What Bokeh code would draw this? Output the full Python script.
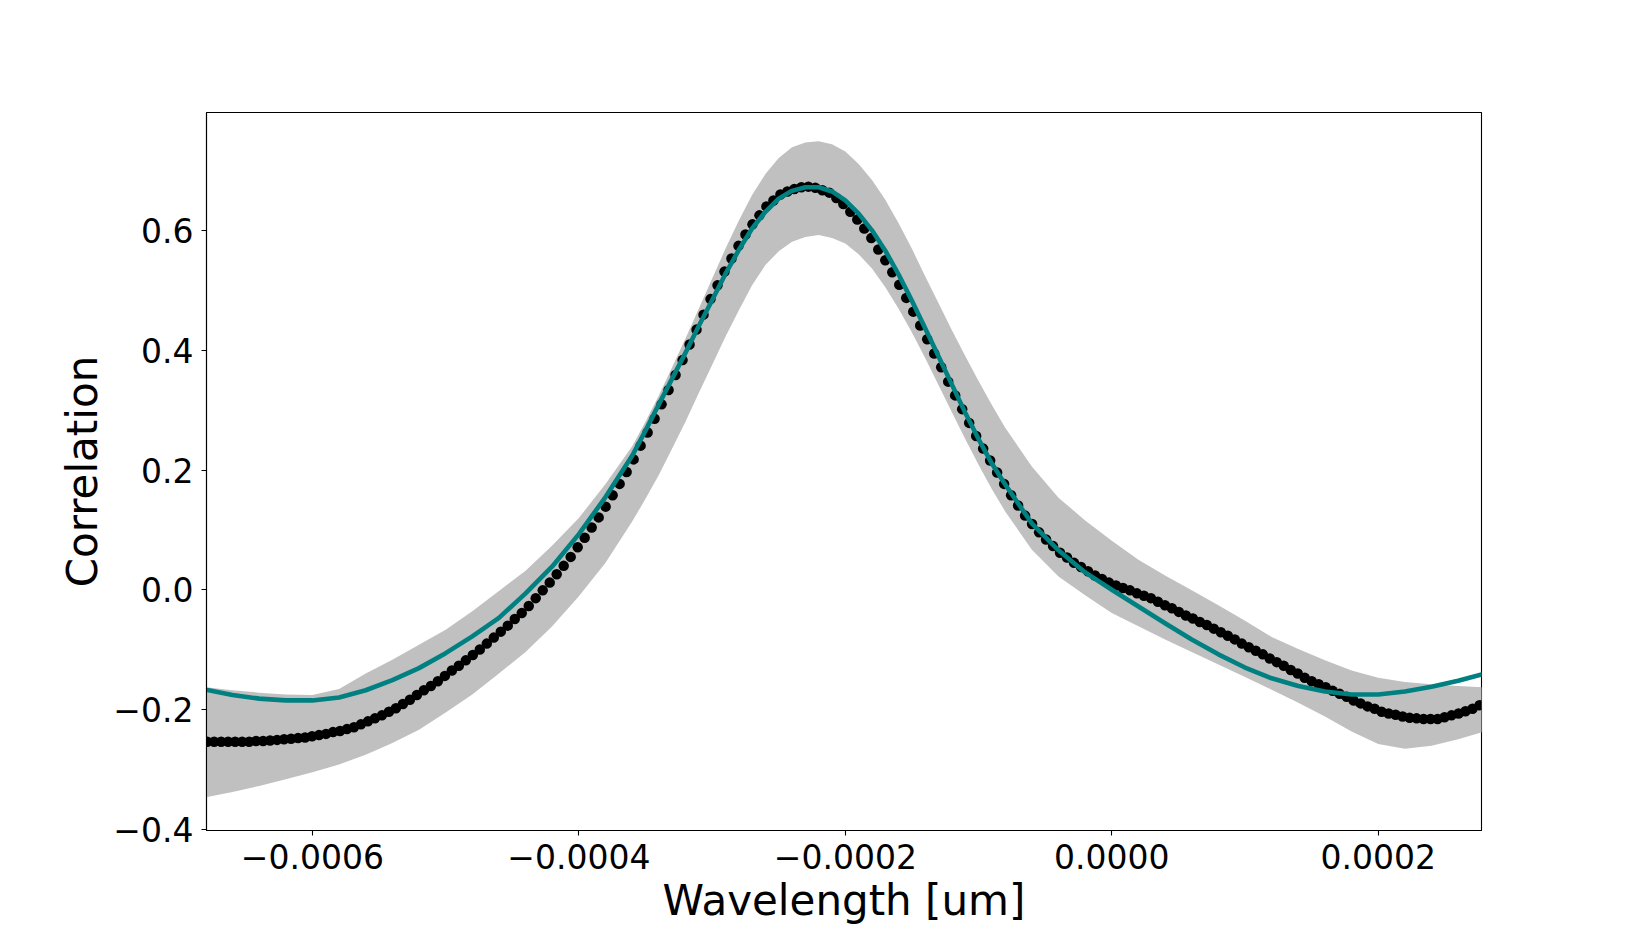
import numpy as np
from bokeh.plotting import figure
from bokeh.models import Range1d, FixedTicker
from bokeh.embed import file_html
from bokeh.resources import INLINE

# ---- data ----
# regular wavelength sampling of the measured correlation (dots)
wl_start = -0.000679
wl_stop = 0.000276
wl_count = 183
corr_dots = [
    -0.254, -0.254, -0.254, -0.254, -0.254, -0.254, -0.254, -0.253, -0.253, -0.252,
    -0.251, -0.250, -0.249, -0.248, -0.247, -0.245, -0.243, -0.241, -0.238, -0.236,
    -0.233, -0.230, -0.225, -0.220, -0.215, -0.210, -0.204, -0.198, -0.191, -0.184,
    -0.176, -0.168, -0.161, -0.153, -0.144, -0.135, -0.127, -0.118, -0.109, -0.100,
    -0.090, -0.080, -0.070, -0.060, -0.049, -0.039, -0.027, -0.014, -0.001, 0.012,
    0.026, 0.040, 0.055, 0.071, 0.087, 0.104, 0.121, 0.139, 0.158, 0.177,
    0.197, 0.218, 0.241, 0.263, 0.286, 0.310, 0.334, 0.359, 0.384, 0.410,
    0.435, 0.460, 0.486, 0.509, 0.532, 0.554, 0.575, 0.594, 0.611, 0.626,
    0.641, 0.651, 0.661, 0.666, 0.670, 0.673, 0.674, 0.672, 0.668, 0.664,
    0.655, 0.645, 0.632, 0.619, 0.604, 0.588, 0.569, 0.551, 0.531, 0.510,
    0.488, 0.465, 0.442, 0.419, 0.395, 0.372, 0.348, 0.325, 0.302, 0.279,
    0.257, 0.236, 0.216, 0.196, 0.177, 0.158, 0.141, 0.124, 0.110, 0.096,
    0.084, 0.073, 0.062, 0.054, 0.045, 0.038, 0.031, 0.024, 0.018, 0.012,
    0.007, 0.003, -0.001, -0.006, -0.010, -0.014, -0.020, -0.026, -0.031, -0.037,
    -0.043, -0.048, -0.054, -0.059, -0.065, -0.071, -0.077, -0.083, -0.090, -0.096,
    -0.102, -0.108, -0.115, -0.121, -0.127, -0.134, -0.140, -0.147, -0.153, -0.158,
    -0.163, -0.169, -0.174, -0.179, -0.185, -0.190, -0.195, -0.199, -0.204, -0.207,
    -0.209, -0.212, -0.214, -0.215, -0.216, -0.216, -0.216, -0.213, -0.210, -0.207,
    -0.203, -0.199, -0.193,
]

# grid for the model line and the uncertainty band (finer around the peak)
wl_model = [
    -0.00068, -0.00066, -0.00064, -0.00062, -0.00060, -0.00058, -0.00056, -0.00054,
    -0.00052, -0.00050, -0.00048, -0.00046, -0.00044, -0.00042, -0.00040, -0.00038,
    -0.00036,
    -0.00035, -0.00034, -0.00033, -0.00032, -0.00031, -0.00030, -0.00029, -0.00028,
    -0.00027, -0.00026, -0.00025, -0.00024, -0.00023, -0.00022, -0.00021, -0.00020,
    -0.00019, -0.00018, -0.00017, -0.00016, -0.00015, -0.00014, -0.00013, -0.00012,
    -0.00011, -0.00010, -0.00009, -0.00008,
    -0.00006, -0.00004, -0.00002, 0.00000, 0.00002, 0.00004, 0.00006, 0.00008,
    0.00010, 0.00012, 0.00014, 0.00016, 0.00018, 0.00020, 0.00022, 0.00024,
    0.00026, 0.00028,
]
corr_model = [
    -0.167, -0.176, -0.182, -0.185, -0.185, -0.180, -0.168, -0.151,
    -0.131, -0.106, -0.078, -0.047, -0.006, 0.039, 0.093, 0.155,
    0.224,
    0.266, 0.310, 0.353, 0.396, 0.441, 0.484, 0.528, 0.568,
    0.604, 0.632, 0.654, 0.667, 0.673, 0.673, 0.666, 0.651,
    0.629, 0.601, 0.567, 0.527, 0.483, 0.437, 0.390, 0.343,
    0.296, 0.252, 0.211, 0.176,
    0.111, 0.066, 0.029, 0.000, -0.028, -0.056, -0.083, -0.108,
    -0.130, -0.148, -0.161, -0.170, -0.175, -0.175, -0.170, -0.162,
    -0.152, -0.140,
]
band_upper = [
    -0.163, -0.168, -0.172, -0.175, -0.176, -0.166, -0.140, -0.117,
    -0.092, -0.067, -0.036, -0.002, 0.032, 0.074, 0.120, 0.177,
    0.240,
    0.281, 0.325, 0.372, 0.420, 0.470, 0.520, 0.570, 0.617,
    0.660, 0.695, 0.722, 0.740, 0.748, 0.750, 0.745, 0.733,
    0.712, 0.685, 0.652, 0.613, 0.570, 0.524, 0.479, 0.434,
    0.391, 0.349, 0.309, 0.271,
    0.206, 0.154, 0.116, 0.082, 0.050, 0.024, -0.001, -0.026,
    -0.052, -0.079, -0.099, -0.118, -0.135, -0.147, -0.154, -0.158,
    -0.161, -0.163,
]
band_lower = [
    -0.347, -0.338, -0.328, -0.317, -0.305, -0.292, -0.276, -0.256,
    -0.234, -0.205, -0.175, -0.140, -0.104, -0.061, -0.011, 0.045,
    0.114,
    0.152, 0.192, 0.236, 0.281, 0.329, 0.376, 0.423, 0.467,
    0.509, 0.543, 0.566, 0.582, 0.590, 0.593, 0.588, 0.579,
    0.561, 0.537, 0.506, 0.470, 0.430, 0.387, 0.342, 0.297,
    0.252, 0.209, 0.168, 0.131,
    0.067, 0.022, -0.009, -0.039, -0.061, -0.083, -0.104, -0.125,
    -0.146, -0.167, -0.189, -0.212, -0.237, -0.258, -0.266, -0.261,
    -0.250, -0.237,
]

x_ticks = [-0.0006, -0.0004, -0.0002, 0.0, 0.0002]
x_tick_labels = ["\u22120.0006", "\u22120.0004", "\u22120.0002", "0.0000", "0.0002"]
y_ticks = [-0.4, -0.2, 0.0, 0.2, 0.4, 0.6]
y_tick_labels = ["\u22120.4", "\u22120.2", "0.0", "0.2", "0.4", "0.6"]

wl_dots = np.linspace(wl_start, wl_stop, wl_count)

FONT = "DejaVu Sans"

p = figure(
    width=1630, height=927,
    output_backend="svg", toolbar_location=None,
    x_range=Range1d(-0.0006795, 0.0002775),
    y_range=Range1d(-0.4025, 0.798),
    min_border_left=206, min_border_right=149,
    min_border_top=112, min_border_bottom=97,
)
p.background_fill_color = "white"
p.border_fill_color = "white"
p.grid.visible = False
p.outline_line_color = "black"
p.outline_line_width = 1.1

p.varea(x=wl_model, y1=band_lower, y2=band_upper, fill_color="#c0c0c0", fill_alpha=1.0)
p.scatter(x=wl_dots, y=corr_dots, size=10.5, fill_color="black", line_color=None)
p.line(x=wl_model, y=corr_model, line_color="#008080", line_width=4.6,
       line_join="round")

for ax in (p.xaxis[0], p.yaxis[0]):
    ax.major_label_text_font = FONT
    ax.major_label_text_font_size = "33px"
    ax.major_label_text_color = "black"
    ax.axis_label_text_font = FONT
    ax.axis_label_text_font_size = "42px"
    ax.axis_label_text_font_style = "normal"
    ax.axis_label_text_color = "black"
    ax.major_tick_out = 5
    ax.major_tick_in = 0
    ax.minor_tick_out = 0
    ax.minor_tick_in = 0
    ax.axis_line_color = "black"
    ax.axis_line_width = 1.1
    ax.major_tick_line_width = 1.1

p.xaxis.ticker = FixedTicker(ticks=x_ticks)
p.xaxis.major_label_overrides = dict(zip(x_ticks, x_tick_labels))
p.yaxis.ticker = FixedTicker(ticks=y_ticks)
p.yaxis.major_label_overrides = dict(zip(y_ticks, y_tick_labels))
p.xaxis.axis_label = "Wavelength [um]"
p.yaxis.axis_label = "Correlation"
p.xaxis.major_label_standoff = 8
p.yaxis.major_label_standoff = 8
p.xaxis.axis_label_standoff = 4
p.yaxis.axis_label_standoff = 3

open("out.html", "w").write(file_html(p, INLINE))
